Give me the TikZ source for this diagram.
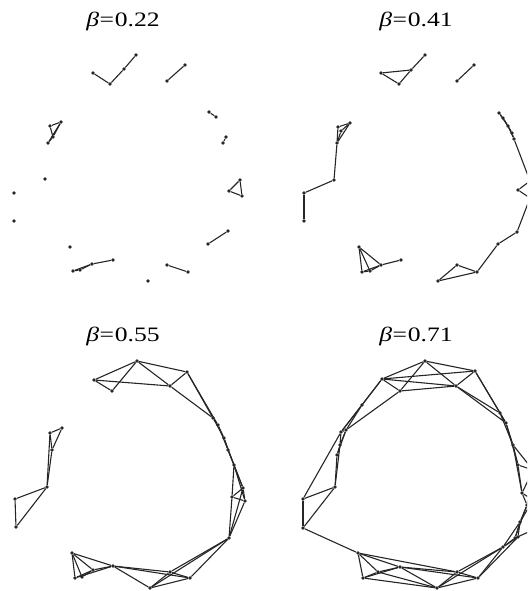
\documentclass[tikz,border=0pt]{standalone}
\usepackage{fontspec}
\setmainfont{Liberation Serif}
\begin{document}
\begin{tikzpicture}[x=1pt,y=-1pt,
  dot/.style={circle,fill=black!85,draw=none,inner sep=0pt,minimum size=3.6pt},
  edge/.style={draw=black!85,line width=1.1pt},
  title/.style={font=\fontsize{20.5}{24}\selectfont,inner sep=0pt}]
\useasboundingbox (0,0) rectangle (527,591);
\clip (0,0) rectangle (527,591);
% titles
\node[title] (T1) at (123,21) {\scalebox{1.25}[1]{\textit{β}\kern0.5pt=\kern0.5pt0.22}};
\node[title] (T2) at (416,21) {\scalebox{1.25}[1]{\textit{β}\kern0.5pt=\kern0.5pt0.41}};
\node[title] (T3) at (123,336) {\scalebox{1.25}[1]{\textit{β}\kern0.5pt=\kern0.5pt0.55}};
\node[title] (T4) at (416,336) {\scalebox{1.25}[1]{\textit{β}\kern0.5pt=\kern0.5pt0.71}};
% ---------- nodes
\foreach \n/\x/\y in {
 a1/93/73, a2/110/84, a3/124/69, a4/136/55,
 b1/167/81, b2/185/65, c1/209/112, c2/216/117, d1/226/137, d2/223/143,
 e1/50/126, e2/61/122, e3/53/137, e4/48/143,
 f1/240/180, f2/229/191, f3/242/196,
 g1/45/179, g2/14/193, g3/14/221, g4/70/247, g5/148/281,
 h1/73/271, h2/80/270, h3/92/264, h4/113/260,
 i1/167/265, i2/188/272, j1/208/244, j2/228/231,
 Ba1/381/73, Ba2/399/84, Ba3/411/70, Ba4/425/55, Bb1/457/81, Bb2/474/65,
 Br1/499/113, Br2/503/118, Br3/508/126, Br4/512/133, Br5/514/139, Br6/530/181,
 Br7/518/190, Br8/530/198, Br9/517/232, Br10/498/244, Br11/477/272,
 Br12/457/265, Br13/438/281,
 Bl1/338/127, Bl2/350/123, Bl3/337/143, Bl7/341/131, Bl4/334/180, Bl5/304/193, Bl6/304/221,
 Bs1/359/247, Bs2/362/272, Bs3/370/271, Bs4/381/265, Bs5/401/260,
 Ct1/94/380, Ct2/137/361, Ct3/112/391, Ct4/170/386, Ct5/187/372,
 Cr1/213/418, Cr2/218/425, Cr3/224/438, Cr4/228/450, Cr5/234/465, Cr6/243/488,
 Cr7/245/501, Cr8/232/497, Cr9/229/538,
 Cb1/72/553, Cb2/75/578, Cb3/82/577, Cb4/93/570, Cb5/113/566, Cb6/150/588,
 Cb7/170/572, Cb8/190/578,
 Cl1/50/433, Cl2/62/428, Cl3/52/450, Cl4/47/487, Cl5/15/499, Cl6/16/527,
 Du1/382/379, Du2/400/391, Du3/425/361, Du4/456/386, Du5/475/371,
 Dv1/362/405,
 Dw1/341/432, Dw2/346/430, Dw3/340/445, Dw4/337/455, Dw5/335/487, Dw6/303/499, Dw7/303/528,
 Dx1/358/553, Dx2/363/578, Dx3/378/572, Dx4/400/567, Dx5/437/588, Dx6/457/572,
 Dx7/478/578, Dx8/503/547, Dx9/518/537,
 Dy1/500/413, Dy2/506/423, Dy3/513/445, Dy4/518/465, Dy5/522/493, Dy6/527/505,
 Dy7/520/522, Dy8/515/538, Dz1/533/470, Dz2/533/500, Dz3/533/530}
 \node[dot] (\n) at (\x,\y) {};
% ---------- edges
\foreach \a/\b in {
 a1/a2, a2/a3, a3/a4, b1/b2, c1/c2, d1/d2,
 e1/e2, e1/e3, e2/e3, e3/e4, e2/e4, f1/f2, f2/f3, f1/f3,
 h1/h2, h2/h3, h3/h4, h1/h3, i1/i2, j1/j2,
 Ba1/Ba2, Ba1/Ba3, Ba2/Ba3, Ba3/Ba4, Bb1/Bb2,
 Br1/Br2, Br1/Br3, Br2/Br3, Br2/Br4, Br3/Br4, Br3/Br5, Br4/Br5, Br5/Br6,
 Br6/Br7, Br7/Br8, Br8/Br9, Br9/Br10, Br10/Br11, Br11/Br12, Br12/Br13, Br11/Br13,
 Bl1/Bl2, Bl1/Bl3, Bl2/Bl3, Bl7/Bl2, Bl7/Bl3, Bl3/Bl4, Bl4/Bl5, Bl5/Bl6,
 Bs1/Bs2, Bs1/Bs3, Bs1/Bs4, Bs2/Bs3, Bs3/Bs4, Bs4/Bs5, Bs2/Bs4,
 Ct1/Ct2, Ct1/Ct3, Ct3/Ct2, Ct1/Ct4, Ct2/Ct5, Ct2/Ct4, Ct4/Ct5,
 Ct4/Cr1, Ct5/Cr1, Ct5/Cr2, Cr1/Cr2, Cr1/Cr3, Cr2/Cr3, Cr2/Cr4, Cr3/Cr4,
 Cr3/Cr5, Cr4/Cr5, Cr4/Cr6, Cr5/Cr6, Cr5/Cr7, Cr6/Cr7, Cr6/Cr8, Cr7/Cr8,
 Cr8/Cr9, Cr7/Cr9, Cr5/Cr8, Cr6/Cr9,
 Cb1/Cb2, Cb1/Cb3, Cb1/Cb4, Cb1/Cb5, Cb2/Cb4, Cb3/Cb4, Cb4/Cb5, Cb2/Cb5,
 Cb5/Cb6, Cb5/Cb7, Cb5/Cb8, Cb6/Cb7, Cb6/Cb8, Cb7/Cb8, Cb7/Cr9, Cb8/Cr9, Cb6/Cr9,
 Cl1/Cl2, Cl1/Cl3, Cl2/Cl3, Cl3/Cl4, Cl1/Cl4, Cl4/Cl5, Cl5/Cl6, Cl4/Cl6,
 Du1/Du3, Du1/Du5, Du1/Du4, Du1/Du2, Du2/Du3, Du2/Du4, Du3/Du4, Du3/Du5, Du4/Du5,
 Du1/Dv1, Dv1/Dw1, Dv1/Dw2, Du2/Dw2, Du1/Dw1,
 Dw1/Dw2, Dw1/Dw3, Dw2/Dw3, Dw2/Dw4, Dw3/Dw4, Dw4/Dw5, Dw3/Dw5, Dw1/Dw6,
 Dw5/Dw6, Dw6/Dw7, Dw5/Dw7, Dw7/Dx1,
 Dx1/Dx2, Dx1/Dx3, Dx1/Dx4, Dx2/Dx3, Dx3/Dx4, Dx2/Dx4, Dx1/Dx6, Dx4/Dx5,
 Dx3/Dx5, Dx2/Dx5, Dx4/Dx6, Dx5/Dx6, Dx5/Dx7, Dx6/Dx7, Dx5/Dx8, Dx6/Dx8,
 Dx7/Dx8, Dx7/Dx9, Dx8/Dx9, Dx4/Dx7,
 Du5/Dy1, Du4/Dy1, Du5/Dy2, Du4/Dy2, Dy1/Dy2, Dy1/Dy3, Dy2/Dy3, Dy2/Dy4,
 Dy3/Dy4, Dy3/Dy5, Dy4/Dy5, Dy4/Dz1, Dy3/Dz1, Dz1/Dy5, Dy5/Dz2, Dy5/Dy6,
 Dz1/Dy6, Dy6/Dy7, Dz2/Dy7, Dy6/Dy8, Dy7/Dy8, Dz3/Dy8, Dz2/Dz3,
 Dy7/Dx9, Dy8/Dx9, Dy8/Dx8, Dy7/Dx8}
 \draw[edge] (\a) -- (\b);
\end{tikzpicture}
\end{document}
